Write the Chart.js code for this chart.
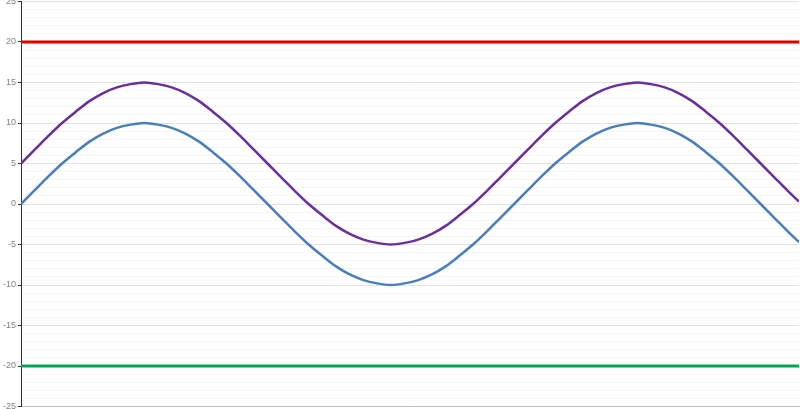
<!DOCTYPE html>
<html>
<head>
<meta charset="utf-8">
<script src="https://cdn.jsdelivr.net/npm/chart.js@4/dist/chart.umd.min.js"></script>
<style>
  html, body { margin: 0; padding: 0; background: #fff; }
  #wrap { width: 800px; height: 409px; }
</style>
</head>
<body>
<div id="wrap"><canvas id="waveChart"></canvas></div>
<script>
// x 位置（度）
const xDeg = [0, 10, 20, 30, 40, 50, 60, 70, 80, 90, 100, 110, 120, 130, 140, 150, 160, 170,
  180, 190, 200, 210, 220, 230, 240, 250, 260, 270, 280, 290, 300, 310, 320, 330, 340, 350,
  360, 370, 380, 390, 400, 410, 420, 430, 440, 450, 460, 470, 480, 490, 500, 510, 520, 530,
  540, 550, 560, 568];

// 青い線
const blueVals = [0, 1.7, 3.4, 5, 6.4, 7.7, 8.7, 9.4, 9.8, 10, 9.8, 9.4, 8.7, 7.7, 6.4, 5, 3.4, 1.7,
  0, -1.7, -3.4, -5, -6.4, -7.7, -8.7, -9.4, -9.8, -10, -9.8, -9.4, -8.7, -7.7, -6.4, -5, -3.4, -1.7,
  0, 1.7, 3.4, 5, 6.4, 7.7, 8.7, 9.4, 9.8, 10, 9.8, 9.4, 8.7, 7.7, 6.4, 5, 3.4, 1.7,
  0, -1.7, -3.4, -4.7];

// 紫の線
const purpleVals = [5, 6.7, 8.4, 10, 11.4, 12.7, 13.7, 14.4, 14.8, 15, 14.8, 14.4, 13.7, 12.7, 11.4, 10, 8.4, 6.7,
  5, 3.3, 1.6, 0, -1.4, -2.7, -3.7, -4.4, -4.8, -5, -4.8, -4.4, -3.7, -2.7, -1.4, 0, 1.6, 3.3,
  5, 6.7, 8.4, 10, 11.4, 12.7, 13.7, 14.4, 14.8, 15, 14.8, 14.4, 13.7, 12.7, 11.4, 10, 8.4, 6.7,
  5, 3.3, 1.6, 0.3];

// 上限・下限
const limitX = [0, 568];
const upperVals = [20, 20];
const lowerVals = [-20, -20];

const yMin = -25;
const yMax = 25;

function toPoints(xs, ys) {
  return xs.map((x, i) => ({ x: x, y: ys[i] }));
}

let ctx = document.getElementById('waveChart').getContext('2d');
window.waveChart = new Chart(ctx, {
  type: 'line',
  data: {
    datasets: [
      {
        label: 'upper',
        data: toPoints(limitX, upperVals),
        borderColor: '#e00000',
        borderWidth: 3,
        pointRadius: 0
      },
      {
        label: 'lower',
        data: toPoints(limitX, lowerVals),
        borderColor: '#00a550',
        borderWidth: 3,
        pointRadius: 0
      },
      {
        label: 'purple',
        data: toPoints(xDeg, purpleVals),
        borderColor: '#6b2f9c',
        borderWidth: 2.5,
        pointRadius: 0,
        cubicInterpolationMode: 'monotone'
      },
      {
        label: 'blue',
        data: toPoints(xDeg, blueVals),
        borderColor: '#4a7ebb',
        borderWidth: 2.5,
        pointRadius: 0,
        cubicInterpolationMode: 'monotone'
      }
    ]
  },
  options: {
    animation: false,
    responsive: true,
    maintainAspectRatio: false,
    layout: { padding: { top: 1.5, right: 1, bottom: 2.5, left: 0 } },
    plugins: {
      legend: { display: false },
      tooltip: { enabled: false }
    },
    scales: {
      x: {
        type: 'linear',
        min: 0,
        max: 568,
        ticks: { display: false },
        grid: { display: false, drawTicks: false },
        border: { display: true, color: '#bfbfbf', width: 1 },
        afterFit: function (scale) { scale.height = 0; }
      },
      y: {
        min: yMin,
        max: yMax,
        ticks: {
          stepSize: 1,
          autoSkip: false,
          color: '#7f7f7f',
          font: { family: 'Liberation Sans', size: 9 },
          padding: 2,
          callback: function (v) { return v % 5 === 0 ? String(v) : ''; }
        },
        grid: {
          tickLength: 3,
          color: function (c) { return c.tick.value % 5 === 0 ? '#e3e3e3' : '#f6f6f6'; },
          tickColor: function (c) { return c.tick.value % 5 === 0 ? '#333' : 'rgba(0,0,0,0)'; }
        },
        border: { display: true, color: '#333', width: 1 },
        afterFit: function (scale) {
          scale.width = 21;
          // 上下のラベル余白をなくす
          scale.paddingTop = 0;
          scale.paddingBottom = 0;
        }
      }
    }
  }
});
</script>
</body>
</html>
